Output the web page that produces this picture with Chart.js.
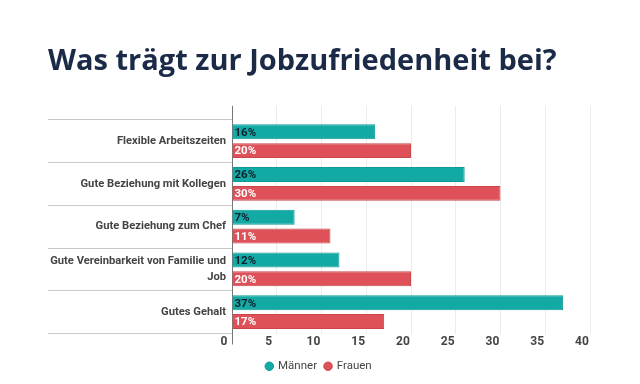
<!DOCTYPE html>
<html>
<head>
<meta charset="utf-8">
<script src="https://cdn.jsdelivr.net/npm/chart.js@4"></script>
<style>
  body { margin: 0; background: #fff; }
  #wrap { width: 640px; height: 384px; }
</style>
</head>
<body>
<div id="wrap"><canvas id="jobChart"></canvas></div>
<script>
const categories = [
    'Flexible Arbeitszeiten',
    'Gute Beziehung mit Kollegen',
    'Gute Beziehung zum Chef',
    ['Gute Vereinbarkeit von Familie und', 'Job'],
    'Gutes Gehalt'
];
const maenner = [16, 26, 7, 12, 37];
const frauen = [20, 30, 11, 20, 17];
const xTicks = [0, 5, 10, 15, 20, 25, 30, 35, 40];

const teal = '#13aaa6';
const red = '#df5159';

// draws the "16%" labels at the start of each bar
const barLabels = {
    id: 'barLabels',
    afterDatasetsDraw(chart) {
        const ctx = chart.ctx;
        ctx.save();
        ctx.font = 'bold 11.5px Roboto';
        ctx.textAlign = 'left';
        ctx.textBaseline = 'middle';
        chart.data.datasets.forEach((ds, i) => {
            const meta = chart.getDatasetMeta(i);
            ctx.fillStyle = i === 0 ? '#10202a' : '#ffffff';
            meta.data.forEach((bar, j) => {
                ctx.fillText(ds.data[j] + '%', bar.base + 2, bar.y + 1);
            });
        });
        ctx.restore();
    }
};

const ctx = document.getElementById('jobChart').getContext('2d');
new Chart(ctx, {
    type: 'bar',
    data: {
        labels: categories,
        datasets: [
            { label: 'Männer', data: maenner, backgroundColor: teal, borderColor: '#0e9a96', borderWidth: 1 },
            { label: 'Frauen', data: frauen, backgroundColor: red, borderColor: '#c9444c', borderWidth: 1 }
        ]
    },
    options: {
        indexAxis: 'y',
        responsive: true,
        maintainAspectRatio: false,
        animation: false,
        layout: { padding: { left: 48, right: 50, top: 0, bottom: 2 } },
        datasets: { bar: { categoryPercentage: 0.88, barPercentage: 0.79 } },
        scales: {
            x: {
                min: 0, max: 40,
                afterBuildTicks(scale) { scale.ticks = xTicks.map(v => ({ value: v })); },
                afterFit(scale) { scale.height = 19; },
                border: { display: false },
                grid: {
                    color: c => c.index === 0 ? '#777' : '#ececec',
                    tickColor: c => c.index === 0 ? '#777' : 'rgba(0,0,0,0)',
                    tickLength: 11
                },
                ticks: { padding: -10, labelOffset: -8, color: '#444', font: { family: 'Roboto', size: 12, weight: 'bold' } }
            },
            x2: {
                position: 'top',
                min: 0, max: 40,
                afterBuildTicks(scale) { scale.ticks = xTicks.map(v => ({ value: v })); },
                border: { display: false },
                grid: {
                    drawOnChartArea: false,
                    color: c => c.index === 0 ? '#777' : '#ececec',
                    tickLength: 14
                },
                ticks: { display: false }
            },
            y: {
                afterFit(scale) { scale.width = 184; },
                border: { color: '#777' },
                grid: {
                    offset: true,
                    drawOnChartArea: false,
                    color: '#c8c8c8',
                    tickLength: 184
                },
                ticks: {
                    padding: -178,
                    color: '#444',
                    font: { family: 'Roboto', size: 11.2, weight: 'bold', lineHeight: 1.45 }
                }
            }
        },
        plugins: {
            title: {
                display: true,
                text: 'Was trägt zur Jobzufriedenheit bei?',
                align: 'start',
                color: '#1b2a47',
                font: { family: 'Open Sans', size: 29, weight: 'bold' },
                padding: { top: 44, bottom: 27 }
            },
            legend: {
                position: 'bottom',
                labels: {
                    usePointStyle: true,
                    pointStyle: 'circle',
                    boxWidth: 6,
                    boxHeight: 6,
                    padding: 8,
                    color: '#444',
                    font: { family: 'Roboto', size: 11.5 }
                }
            },
            tooltip: { enabled: false }
        }
    },
    plugins: [barLabels]
});
</script>
</body>
</html>
